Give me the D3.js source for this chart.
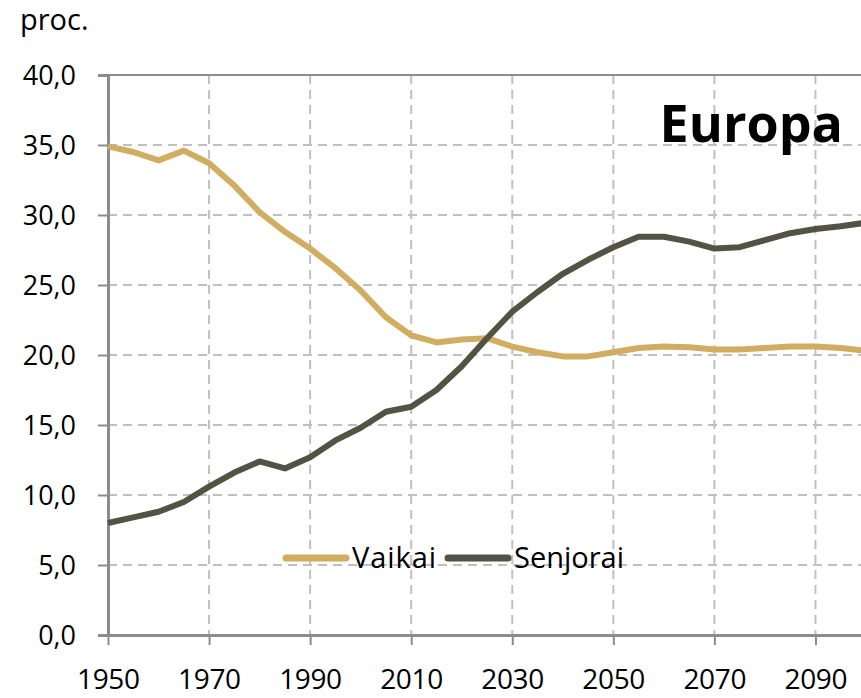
<!DOCTYPE html>
<html>
<head>
<meta charset="utf-8">
<script src="https://cdn.jsdelivr.net/npm/d3@7"></script>
<style>
  body { margin: 0; background: #fff; }
  svg text { font-family: "Open Sans", "Noto Sans", sans-serif; fill: #000; }
</style>
</head>
<body>
<div id="chart"></div>
<script>
"use strict";

var years = d3.range(1950, 2101, 5);

var vaikai = [34.9, 34.5, 33.9, 34.6, 33.7, 32.1, 30.2, 28.8, 27.6, 26.2,
              24.6, 22.7, 21.4, 20.9, 21.1, 21.2, 20.6, 20.2, 19.9, 19.9,
              20.2, 20.5, 20.6, 20.55, 20.4, 20.4, 20.5, 20.6, 20.6, 20.5, 20.3];

var senjorai = [8.0, 8.4, 8.8, 9.5, 10.6, 11.6, 12.4, 11.9, 12.7, 13.9,
                14.8, 15.95, 16.3, 17.5, 19.2, 21.2, 23.1, 24.5, 25.8, 26.8,
                27.7, 28.45, 28.45, 28.1, 27.6, 27.7, 28.2, 28.7, 29.0, 29.2, 29.45];

var seriesNames = ['Vaikai', 'Senjorai'];
var seriesColors = ['#d1ad62', '#545243'];
var xTickValues = [1950, 1970, 1990, 2010, 2030, 2050, 2070, 2090];
var yTickValues = [0, 5, 10, 15, 20, 25, 30, 35, 40];

var width = 861, height = 698;
var margin = {top: 75, right: -5, bottom: 63, left: 108};
var graphWidth = width - margin.left - margin.right;
var graphHeight = height - margin.top - margin.bottom;

var svg = d3.select('#chart').append('svg')
    .attr('width', width)
    .attr('height', height);

var g = svg.append('g')
    .attr('transform', 'translate(' + margin.left + ',' + margin.top + ')');

var x = d3.scaleLinear().domain([1950, 2100]).range([0, graphWidth]);
var y = d3.scaleLinear().domain([0, 40]).range([graphHeight, 0]);

// dashed grid
g.append('g')
    .selectAll('line')
    .data(xTickValues.filter(function(d) { return d > 1950; }))
    .enter().append('line')
    .attr('x1', function(d) { return x(d); })
    .attr('x2', function(d) { return x(d); })
    .attr('y1', 0)
    .attr('y2', graphHeight)
    .attr('stroke', '#c0c0c0')
    .attr('stroke-width', 2)
    .attr('stroke-dasharray', '9,6');

g.append('g')
    .selectAll('line')
    .data(yTickValues.filter(function(d) { return d > 0 && d < 40; }))
    .enter().append('line')
    .attr('x1', 0)
    .attr('x2', graphWidth)
    .attr('y1', function(d) { return y(d); })
    .attr('y2', function(d) { return y(d); })
    .attr('stroke', '#c0c0c0')
    .attr('stroke-width', 2)
    .attr('stroke-dasharray', '9,6');

// top border
g.append('line')
    .attr('x1', 0).attr('x2', graphWidth)
    .attr('y1', 0).attr('y2', 0)
    .attr('stroke', '#8c8c8c').attr('stroke-width', 2);

// axes
var yAxis = d3.axisLeft(y)
    .tickValues(yTickValues)
    .tickSize(10)
    .tickPadding(22)
    .tickFormat(function(d) { return d3.format('.1f')(d).replace('.', ','); });

var yG = g.append('g').call(yAxis);
yG.select('.domain').attr('stroke', '#8c8c8c').attr('stroke-width', 3);
yG.selectAll('.tick line').attr('stroke', '#8c8c8c').attr('stroke-width', 2);
yG.selectAll('.tick text').attr('font-size', 27).attr('dy', '0.34em');

var xAxis = d3.axisBottom(x)
    .tickValues(xTickValues)
    .tickSize(10)
    .tickPadding(24)
    .tickSizeOuter(0)
    .tickFormat(d3.format('d'));

var xG = g.append('g')
    .attr('transform', 'translate(0,' + graphHeight + ')')
    .call(xAxis);
xG.select('.domain').attr('stroke', '#8c8c8c').attr('stroke-width', 3);
xG.selectAll('.tick line').attr('stroke', '#8c8c8c').attr('stroke-width', 2);
xG.selectAll('.tick text').attr('font-size', 28).attr('textLength', 63);

// lines
var line = d3.line()
    .x(function(d) { return x(d[0]); })
    .y(function(d) { return y(d[1]); });

[vaikai, senjorai].forEach(function(values, i) {
    g.append('path')
        .datum(d3.zip(years, values))
        .attr('fill', 'none')
        .attr('stroke', seriesColors[i])
        .attr('stroke-width', 6)
        .attr('stroke-linejoin', 'round')
        .attr('d', line);
});

// legend
var legend = svg.append('g').attr('transform', 'translate(283,558)');
var legendX = [0, 162];
seriesNames.forEach(function(name, i) {
    var item = legend.append('g').attr('transform', 'translate(' + legendX[i] + ',0)');
    item.append('line')
        .attr('x1', 3).attr('x2', 63)
        .attr('y1', 0).attr('y2', 0)
        .attr('stroke', seriesColors[i])
        .attr('stroke-width', 7)
        .attr('stroke-linecap', 'round');
    item.append('text')
        .attr('x', 69)
        .attr('y', 10)
        .attr('font-size', 29)
        .attr('textLength', i === 0 ? 84 : 110)
        .text(name);
});

// titles
svg.append('text')
    .attr('x', 20).attr('y', 30)
    .attr('font-size', 29)
    .text('proc.');

svg.append('text')
    .attr('x', 843).attr('y', 142)
    .attr('text-anchor', 'end')
    .attr('font-size', 52)
    .attr('font-weight', 'bold')
    .text('Europa');
</script>
</body>
</html>
